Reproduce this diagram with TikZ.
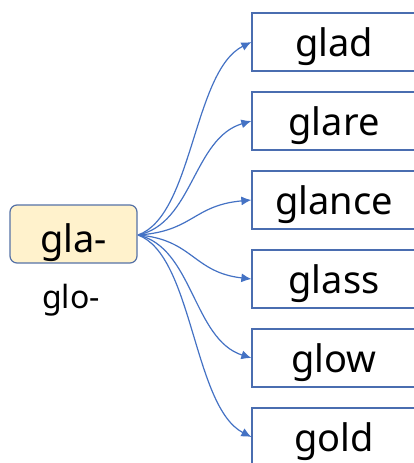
\documentclass[tikz,border=0pt]{standalone}
\usepackage{fontspec}
\setmainfont{Noto Sans}
\usetikzlibrary{arrows.meta}
\definecolor{boxblue}{HTML}{4A6DB0}
\definecolor{arrowblue}{HTML}{4472C4}
\definecolor{rootfill}{HTML}{FFF2CC}
\tikzset{
  wordbox/.style={draw=boxblue, line width=1.3pt, minimum width=164pt, minimum height=58pt, inner sep=0pt, text height=28pt, text depth=0pt, font=\fontsize{38}{38}\selectfont},
  rootbox/.style={draw=boxblue!80!gray, fill=rootfill, rounded corners=7pt, line width=1.2pt, minimum width=127pt, minimum height=58pt, inner sep=0pt, text height=36pt, text depth=0pt, font=\fontsize{38}{38}\selectfont},
  alttext/.style={inner sep=0pt, anchor=base, font=\fontsize{32}{32}\selectfont},
  branch/.style={draw=arrowblue, line width=1.2pt, -{Latex[length=10pt,width=9pt]}}
}
\begin{document}
\begin{tikzpicture}[x=1pt,y=-1pt]
\useasboundingbox (0,0) rectangle (414,463);
\clip (0,0) rectangle (414,463);
\node[rootbox] (root) at (73.5,234) {gla-};
\node[alttext] (alt) at (71,308) {glo-};
\node[wordbox] (w1) at (334,42) {glad};
\node[wordbox] (w2) at (334,121) {glare};
\node[wordbox] (w3) at (334,200) {glance};
\node[wordbox] (w4) at (334,279) {glass};
\node[wordbox] (w5) at (334,358) {glow};
\node[wordbox] (w6) at (334,437) {gold};
\coordinate (src) at (138,235);
\foreach \i/\ty in {1/42,2/121,3/200,4/279,5/358,6/437} {
  \pgfmathsetmacro{\ca}{235+0.1*(\ty-235)}
  \pgfmathsetmacro{\cb}{\ty+0.15*(235-\ty)}
  \draw[branch] (src) .. controls (193,\ca) and (193,\cb) .. (w\i.west);
}
\end{tikzpicture}
\end{document}
